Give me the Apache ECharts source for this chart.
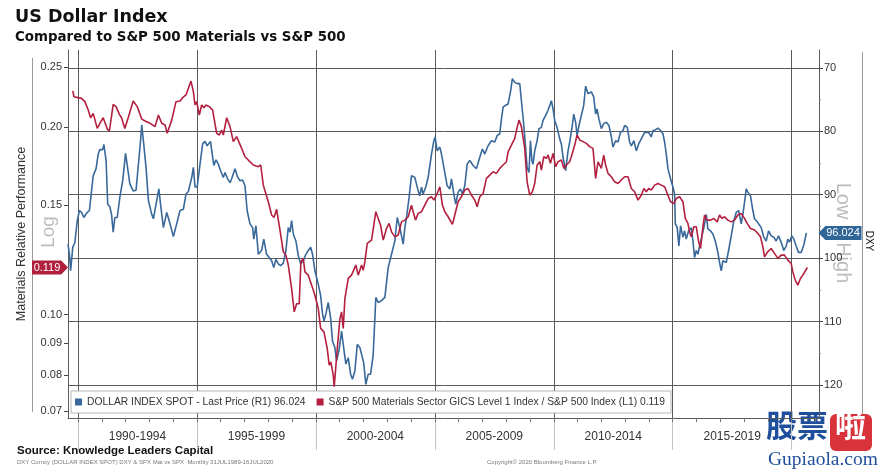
<!DOCTYPE html>
<html><head><meta charset="utf-8">
<script src="https://cdn.jsdelivr.net/npm/echarts@6/dist/echarts.min.js"></script>
<style>html,body{margin:0;padding:0;background:#fff}#c{width:886px;height:472px}</style>
</head><body><div id="c"></div>
<script>
// ---- DATA ----
const dxyDates = [1989.58,1989.64,1989.69,1989.78,1989.87,1989.97,1990.06,1990.15,1990.25,1990.36,1990.48,1990.57,1990.64,1990.76,1990.85,1990.92,1991.04,1991.09,1991.18,1991.25,1991.34,1991.41,1991.48,1991.55,1991.65,1991.76,1991.88,1992.00,1992.09,1992.18,1992.32,1992.44,1992.54,1992.63,1992.68,1992.75,1992.86,1992.96,1993.10,1993.17,1993.31,1993.40,1993.47,1993.59,1993.73,1993.87,1994.01,1994.15,1994.29,1994.43,1994.54,1994.64,1994.78,1994.85,1994.92,1995.01,1995.13,1995.24,1995.34,1995.43,1995.57,1995.66,1995.71,1995.80,1995.90,1995.99,1996.11,1996.18,1996.29,1996.39,1996.46,1996.60,1996.71,1996.81,1996.92,1997.02,1997.11,
1997.23,1997.34,1997.39,1997.48,1997.58,1997.72,1997.81,1997.93,1998.04,1998.14,1998.23,1998.32,1998.42,1998.52,1998.63,1998.74,1998.84,1998.91,1998.98,1999.05,1999.16,1999.26,1999.36,1999.47,1999.58,1999.68,1999.78,1999.86,1999.96,2000.10,2000.20,2000.28,2000.34,2000.42,2000.52,2000.62,2000.70,2000.80,2000.87,2000.98,2001.08,2001.15,2001.26,2001.36,2001.46,2001.54,2001.64,2001.74,2001.85,2002.01,2002.10,2002.20,2002.30,2002.41,2002.52,2002.62,2002.76,2002.90,2003.04,2003.18,2003.32,2003.42,2003.53,2003.67,2003.74,2003.81,2003.92,2004.02,2004.16,2004.30,2004.37,2004.44,2004.51,2004.62,2004.72,2004.86,2004.96,2005.01,2005.10,
2005.21,2005.28,2005.38,2005.52,2005.63,2005.70,2005.80,2005.88,2005.98,2006.08,2006.16,2006.26,2006.36,2006.47,2006.61,2006.75,2006.89,2007.00,2007.10,2007.24,2007.38,2007.52,2007.62,2007.73,2007.80,2007.87,2007.98,2008.08,2008.18,2008.26,2008.36,2008.46,2008.57,2008.64,2008.71,2008.78,2008.88,2008.96,2009.02,2009.08,2009.13,2009.20,2009.30,2009.38,2009.48,2009.55,2009.66,2009.76,2009.90,2009.97,2010.04,2010.14,2010.25,2010.32,2010.39,2010.50,2010.60,2010.67,2010.78,2010.84,2010.92,2010.98,2011.06,2011.16,2011.26,2011.34,2011.44,2011.58,2011.68,2011.76,2011.82,2011.90,2012.00,2012.10,2012.21,2012.32,2012.42,2012.49,2012.60,2012.70,2012.80,2012.91,
2012.98,2013.09,2013.19,2013.26,2013.37,2013.47,2013.57,2013.65,2013.75,2013.82,2013.89,2013.99,2014.10,2014.17,2014.27,2014.38,2014.49,2014.59,2014.66,2014.73,2014.80,2014.91,2015.01,2015.08,2015.11,2015.19,2015.26,2015.33,2015.43,2015.50,2015.57,2015.67,2015.78,2015.85,2015.92,2015.99,2016.06,2016.13,2016.20,2016.31,2016.41,2016.48,2016.59,2016.69,2016.79,2016.90,2016.97,2017.04,2017.11,2017.18,2017.25,2017.35,2017.46,2017.57,2017.67,2017.77,2017.88,2017.95,2018.02,2018.09,2018.16,2018.27,2018.37,2018.44,2018.58,2018.72,2018.83,2018.93,2019.03,2019.14,2019.25,2019.35,2019.45,2019.53,2019.59,2019.67,2019.77,2019.84,2019.91,2020.01,2020.09,2020.19,2020.29,2020.40,2020.52,2020.62];
const dxyValues = [97.8,99.4,102.0,98.3,97.5,94.1,92.5,92.8,93.6,92.9,92.5,89.4,87.0,85.9,83.6,82.9,82.9,82.1,84.6,91.5,91.9,93.1,95.9,93.6,93.6,90.4,87.8,83.5,85.9,88.3,89.4,89.3,85.2,81.5,79.0,81.5,85.7,90.9,93.1,93.8,90.9,89.1,91.5,95.2,92.8,94.6,96.6,94.6,92.5,92.3,89.9,89.5,87.3,85.7,88.8,88.8,85.2,82.0,81.6,82.3,81.6,84.1,85.4,84.5,85.2,86.2,87.3,86.5,87.5,88.1,87.5,85.9,87.2,87.8,87.7,88.6,92.5,
94.6,95.2,97.0,94.9,99.4,98.8,97.0,99.4,99.9,100.4,101.5,100.2,100.9,101.2,100.8,98.8,95.2,95.9,94.1,96.2,97.3,99.6,100.9,100.4,99.4,98.8,98.3,99.4,102.0,104.1,105.9,108.8,109.9,108.8,107.0,109.4,113.1,114.1,116.2,114.4,111.5,113.6,116.7,115.7,118.3,119.1,117.8,113.6,114.1,116.5,119.9,118.3,118.3,115.2,106.2,107.0,106.7,106.2,101.5,99.4,97.3,93.6,95.2,97.8,95.2,93.6,90.4,87.0,87.3,89.4,90.2,88.8,89.9,88.8,87.3,83.6,81.5,80.9,83.1,
82.5,83.6,85.7,88.6,89.1,87.5,89.9,91.5,89.6,89.1,89.9,88.6,85.2,84.6,85.4,85.9,84.1,82.8,83.6,82.3,81.5,81.7,80.7,80.4,78.1,76.2,75.9,75.7,73.8,71.7,72.3,72.5,72.5,75.2,77.8,80.9,85.7,86.5,81.5,84.6,85.2,83.1,81.5,79.6,79.4,78.3,77.5,76.7,75.2,76.5,78.3,79.4,81.2,82.0,84.1,86.2,83.1,81.7,79.1,77.3,78.6,80.7,79.1,77.5,75.9,72.9,74.1,73.8,74.6,77.3,76.5,78.1,79.6,78.8,78.6,79.1,80.9,82.5,81.5,81.7,80.2,79.9,
79.1,79.4,81.7,82.3,81.5,83.1,82.0,81.7,80.7,80.2,80.4,80.2,80.9,79.9,79.8,79.5,79.9,80.4,81.7,83.6,85.9,87.5,88.8,89.9,94.6,95.2,98.1,94.9,96.7,95.7,97.0,95.7,95.2,97.3,99.9,98.8,99.4,98.1,97.0,95.2,93.1,95.4,95.7,96.2,97.3,99.1,100.7,102.0,100.4,100.2,100.7,98.8,96.5,94.1,92.8,92.5,94.6,93.1,91.2,89.1,89.6,90.2,92.5,93.8,94.4,95.2,96.7,97.3,95.7,96.5,96.7,97.3,96.5,96.2,97.8,98.8,98.1,97.0,97.5,96.5,97.0,98.1,99.1,99.1,97.8,96.024];

const ratioDates = [1989.78,1989.83,1990.01,1990.15,1990.29,1990.43,1990.53,1990.64,1990.81,1990.92,1991.06,1991.23,1991.32,1991.48,1991.60,1991.74,1991.83,1991.97,1992.11,1992.32,1992.49,1992.68,1992.82,1993.03,1993.24,1993.38,1993.52,1993.66,1993.75,1993.94,1994.12,1994.29,1994.40,1994.54,1994.75,1994.85,1994.92,1994.99,1995.10,1995.20,1995.29,1995.38,1995.52,1995.66,1995.83,1995.94,1996.04,1996.11,1996.25,1996.39,1996.53,1996.67,1996.88,1997.02,1997.16,
1997.37,1997.58,1997.68,1997.79,1998.00,1998.14,1998.24,1998.35,1998.49,1998.63,1998.74,1998.84,1998.98,1999.09,1999.19,1999.30,1999.37,1999.47,1999.54,1999.68,1999.82,1999.96,2000.10,2000.20,2000.34,2000.48,2000.56,2000.63,2000.73,2000.77,2000.90,2001.01,2001.08,2001.15,2001.22,2001.36,2001.50,2001.68,2001.78,2001.92,2001.99,2002.06,2002.16,2002.34,2002.52,2002.62,2002.72,2002.83,2002.97,2003.08,2003.18,2003.32,2003.46,2003.60,2003.74,2003.88,2004.02,2004.09,2004.19,2004.30,2004.44,2004.58,2004.72,2004.86,2004.96,2005.07,
2005.21,2005.32,2005.42,2005.56,2005.74,2005.84,2005.98,2006.12,2006.26,2006.40,2006.54,2006.68,2006.78,2006.89,2007.03,2007.17,2007.31,2007.45,2007.59,2007.73,2007.87,2008.01,2008.08,2008.22,2008.36,2008.47,2008.54,2008.64,2008.78,2008.88,2008.99,2009.10,2009.20,2009.30,2009.41,2009.48,2009.58,2009.69,2009.76,2009.86,2009.97,2010.08,2010.18,2010.32,2010.43,2010.53,2010.67,2010.78,2010.88,2010.98,2011.09,2011.23,2011.37,2011.51,2011.65,2011.76,2011.86,2012.00,2012.10,2012.18,2012.28,2012.42,2012.56,2012.70,2012.84,2012.98,
2013.12,2013.26,2013.40,2013.54,2013.68,2013.79,2013.89,2013.99,2014.10,2014.24,2014.38,2014.52,2014.66,2014.80,2014.91,2015.05,2015.15,2015.29,2015.43,2015.53,2015.64,2015.71,2015.78,2015.89,2015.99,2016.09,2016.17,2016.27,2016.34,2016.45,2016.59,2016.73,2016.87,2016.97,2017.07,2017.18,2017.32,2017.46,2017.60,2017.74,2017.88,2018.02,2018.13,2018.27,2018.44,2018.58,2018.69,2018.79,2018.86,2019.00,2019.14,2019.28,2019.42,2019.56,2019.70,2019.84,2019.98,2020.05,2020.15,2020.26,2020.37,2020.47,2020.54,2020.66];
const ratioValues = [0.2287,0.2239,0.2231,0.2225,0.2198,0.2131,0.2071,0.2105,0.1991,0.2029,0.2071,0.1986,0.1972,0.2176,0.2158,0.2097,0.2071,0.1991,0.2071,0.2203,0.2158,0.2061,0.2046,0.2029,0.2004,0.2092,0.2029,0.2016,0.1955,0.2053,0.2198,0.2203,0.2231,0.2253,0.2372,0.2281,0.2171,0.2198,0.2092,0.2171,0.2150,0.2171,0.2158,0.2131,0.1955,0.1943,0.1979,0.1943,0.2071,0.2004,0.1896,0.1931,0.1849,0.1793,0.1771,
0.1739,0.1728,0.1739,0.1614,0.1518,0.1445,0.1432,0.1476,0.1367,0.1262,0.1246,0.1201,0.1101,0.1010,0.1041,0.1041,0.1216,0.1231,0.1171,0.1157,0.1115,0.1074,0.1023,0.0950,0.0938,0.0881,0.0829,0.0839,0.0799,0.0766,0.0881,0.0985,0.1010,0.0950,0.1061,0.1143,0.1157,0.1201,0.1157,0.1201,0.1178,0.1216,0.1301,0.1317,0.1463,0.1427,0.1392,0.1317,0.1375,0.1401,0.1358,0.1333,0.1342,0.1409,0.1418,0.1436,0.1499,0.1463,0.1418,0.1454,0.1463,0.1499,0.1536,0.1546,0.1527,0.1555,
0.1604,0.1499,0.1463,0.1436,0.1396,0.1445,0.1518,0.1546,0.1585,0.1594,0.1555,0.1527,0.1490,0.1546,0.1565,0.1655,0.1675,0.1696,0.1686,0.1717,0.1739,0.1760,0.1826,0.1872,0.1919,0.2004,0.2053,0.2004,0.1849,0.1634,0.1555,0.1575,0.1624,0.1739,0.1760,0.1707,0.1793,0.1782,0.1804,0.1750,0.1815,0.1728,0.1760,0.1771,0.1717,0.1739,0.1760,0.1815,0.1872,0.1943,0.1908,0.1896,0.1884,0.1861,0.1849,0.1655,0.1760,0.1717,0.1804,0.1739,0.1686,0.1665,0.1634,0.1624,0.1645,0.1665,
0.1665,0.1594,0.1575,0.1527,0.1555,0.1594,0.1575,0.1594,0.1585,0.1614,0.1624,0.1614,0.1604,0.1555,0.1518,0.1508,0.1536,0.1546,0.1518,0.1427,0.1401,0.1358,0.1333,0.1384,0.1384,0.1309,0.1277,0.1384,0.1445,0.1418,0.1418,0.1427,0.1409,0.1445,0.1427,0.1436,0.1418,0.1409,0.1418,0.1445,0.1454,0.1427,0.1401,0.1375,0.1367,0.1350,0.1333,0.1285,0.1238,0.1262,0.1277,0.1254,0.1231,0.1246,0.1246,0.1223,0.1208,0.1171,0.1136,0.1115,0.1143,0.1157,0.1164,0.119];

const periodStarts = [1990,1995,2000,2005,2010,2015,2020];
const periodLabels = ['1990-1994','1995-1999','2000-2004','2005-2009','2010-2014','2015-2019'];
const yearTicks = [1990,1991,1992,1993,1994,1995,1996,1997,1998,1999,2000,2001,2002,2003,2004,2005,2006,2007,2008,2009,2010,2011,2012,2013,2014,2015,2016,2017,2018,2019,2020,2021];
const ratioTicks = [0.07,0.08,0.09,0.10,0.15,0.20,0.25];
const dxyTicks = [70,80,90,100,110,120];
const dxyMinorTicks = [75,85,95,105,115];
const dxyLast = 96.024;
const ratioLast = 0.119;
const seriesNames = ['DOLLAR INDEX SPOT - Last Price (R1) 96.024','S&P 500 Materials Sector GICS Level 1 Index / S&P 500 Index (L1) 0.119'];

// ---- CHART ----
const X_MIN = 1989.58, X_MAX = 2021.15;
const BLUE = '#39699a', RED = '#b3203f';
const GRID = '#5a5a5a';
const chart = echarts.init(document.getElementById('c'), null, {renderer:'canvas'});
const dxyData = dxyDates.map((d,i)=>[d, dxyValues[i]]);
const ratioData = ratioDates.map((d,i)=>[d, ratioValues[i]]);
const fontSans = 'Liberation Sans';

chart.setOption({
  animation: false,
  backgroundColor: '#fff',
  grid: {left: 68, right: 67, top: 50, bottom: 54, containLabel: false},
  legend: {
    left: 71, top: 391, itemWidth: 7, itemHeight: 7, icon: 'rect', itemGap: 11,
    padding: [6, 6, 6, 4], backgroundColor: '#fff', borderColor: '#b5b5b5', borderWidth: 1,
    textStyle: {fontSize: 10.3, color: '#333', fontFamily: fontSans},
    data: seriesNames
  },
  xAxis: [{
    type: 'value', min: X_MIN, max: X_MAX,
    axisLine: {show: true, onZero: false, lineStyle: {color: GRID, width: 1}},
    axisTick: {show: true, customValues: periodStarts, length: 32, lineStyle: {color: '#c4c4c4'}},
    axisLabel: {customValues: periodStarts.slice(0, -1).map(y => y + 2.5),
      formatter: v => periodLabels[Math.round((v - periodStarts[0] - 2.5) / 5)],
      margin: 13, color: '#333', fontSize: 12, fontFamily: fontSans},
    splitLine: {show: true, lineStyle: {color: GRID, width: 1}}
  }, {
    type: 'value', min: X_MIN, max: X_MAX, position: 'bottom',
    axisLine: {show: false}, axisLabel: {show: false}, splitLine: {show: false},
    axisTick: {show: true, customValues: yearTicks, length: 4, lineStyle: {color: '#777'}}
  }],
  yAxis: [{
    type: 'log', logBase: 10, min: 0.0682, max: 0.2661, position: 'left',
    name: 'Materials Relative Performance', nameLocation: 'middle', nameGap: 40, nameRotate: 90,
    nameTextStyle: {fontSize: 12.5, color: '#333', fontFamily: fontSans},
    axisLine: {show: true, lineStyle: {color: GRID}},
    axisTick: {show: true, customValues: ratioTicks, length: 4, lineStyle: {color: '#444'}},
    axisLabel: {customValues: ratioTicks, formatter: v => v.toFixed(2), margin: 6, color: '#333', fontSize: 11, fontFamily: fontSans},
    splitLine: {show: false}
  }, {
    type: 'value', inverse: true, min: 67.2, max: 125.2, position: 'right',
    axisLine: {show: true, lineStyle: {color: GRID}},
    axisTick: {show: true, customValues: dxyTicks, length: 4, lineStyle: {color: '#444'}},
    axisLabel: {customValues: dxyTicks, margin: 5, color: '#333', fontSize: 11, fontFamily: fontSans},
    splitLine: {show: true, lineStyle: {color: GRID, width: 1}}
  }, {
    type: 'value', inverse: true, min: 67.2, max: 125.2, position: 'right',
    axisLine: {show: false}, axisLabel: {show: false}, splitLine: {show: false},
    axisTick: {show: true, customValues: dxyMinorTicks, length: 2, lineStyle: {color: '#888'}}
  }],
  series: [{
    name: seriesNames[0], type: 'line', xAxisIndex: 0, yAxisIndex: 1, data: dxyData,
    symbol: 'none', lineStyle: {color: BLUE, width: 1.6}, itemStyle: {color: BLUE}, z: 3,
    markPoint: {
      silent: true, symbol: 'path://M8,0L50,0L50,15L8,15L0,7.5Z', symbolSize: [43, 14], symbolOffset: [21, 0],
      itemStyle: {color: '#2f6698'},
      label: {show: true, position: 'inside', formatter: String(dxyLast), color: '#fff', fontSize: 11, fontFamily: fontSans, offset: [3, 0]},
      data: [{coord: [X_MAX, dxyLast]}]
    }
  }, {
    name: seriesNames[1], type: 'line', xAxisIndex: 0, yAxisIndex: 0, data: ratioData,
    symbol: 'none', lineStyle: {color: RED, width: 1.6}, itemStyle: {color: RED}, z: 4,
    markPoint: {
      silent: true, symbol: 'path://M0,0L30,0L37,7.5L30,15L0,15Z', symbolSize: [36, 14], symbolOffset: [-18, 0],
      itemStyle: {color: '#b01f3c'},
      label: {show: true, position: 'inside', formatter: String(ratioLast), color: '#fff', fontSize: 11, fontFamily: fontSans, offset: [-3, 0]},
      data: [{coord: [X_MIN, ratioLast]}]
    }
  }],
  graphic: [
    {type: 'text', left: 15, top: 8, style: {text: 'US Dollar Index', font: 'bold 17.5px "DejaVu Sans"', fill: '#111'}},
    {type: 'text', left: 15, top: 31, style: {text: 'Compared to S&P 500 Materials vs S&P 500', font: 'bold 13.4px "DejaVu Sans"', fill: '#111'}},
    {type: 'line', shape: {x1: 32.5, y1: 58, x2: 32.5, y2: 412}, style: {stroke: '#9a9a9a', lineWidth: 1}},
    {type: 'line', shape: {x1: 862.5, y1: 52, x2: 862.5, y2: 425}, style: {stroke: '#9a9a9a', lineWidth: 1}},
    {type: 'text', x: 49, y: 232, rotation: Math.PI / 2, style: {text: 'Log', font: '19px "Liberation Sans"', fill: '#bdbdbd', align: 'center', verticalAlign: 'middle'}},
    {type: 'text', x: 843, y: 233, rotation: -Math.PI / 2, style: {text: 'Low = High', font: '20px "Liberation Sans"', fill: '#bdbdbd', align: 'center', verticalAlign: 'middle'}},
    {type: 'text', x: 869, y: 241, rotation: -Math.PI / 2, style: {text: 'DXY', font: '10px "Liberation Sans"', fill: '#111', align: 'center', verticalAlign: 'middle'}},
    {type: 'text', left: 17, top: 445, style: {text: 'Source: Knowledge Leaders Capital', font: 'bold 11.5px "Liberation Sans"', fill: '#111'}},
    {type: 'text', left: 17, top: 459, style: {text: 'DXY Curncy (DOLLAR INDEX SPOT) DXY & SPX Mat vs SPX  Monthly 31JUL1989-16JUL2020', font: '6px "Liberation Sans"', fill: '#777'}},
    {type: 'text', left: 487, top: 459, style: {text: 'Copyright\u00a9 2020 Bloomberg Finance L.P.', font: '6px "Liberation Sans"', fill: '#777'}},
    {type: 'text', left: 766, top: 410, style: {text: '股票', font: 'bold 31px "Noto Sans CJK SC"', fill: '#1f4f9b'}},
    {type: 'rect', shape: {x: 830, y: 414, width: 42, height: 37, r: 6}, style: {fill: '#d8323a'}},
    {type: 'text', left: 835, top: 410, style: {text: '啦', font: 'bold 31px "Noto Sans CJK SC"', fill: '#fff'}},
    {type: 'text', left: 768, top: 450, style: {text: 'Gupiaola.com', font: '19.5px "Liberation Serif"', fill: '#1f4f9b'}}
  ]
});
</script></body></html>
